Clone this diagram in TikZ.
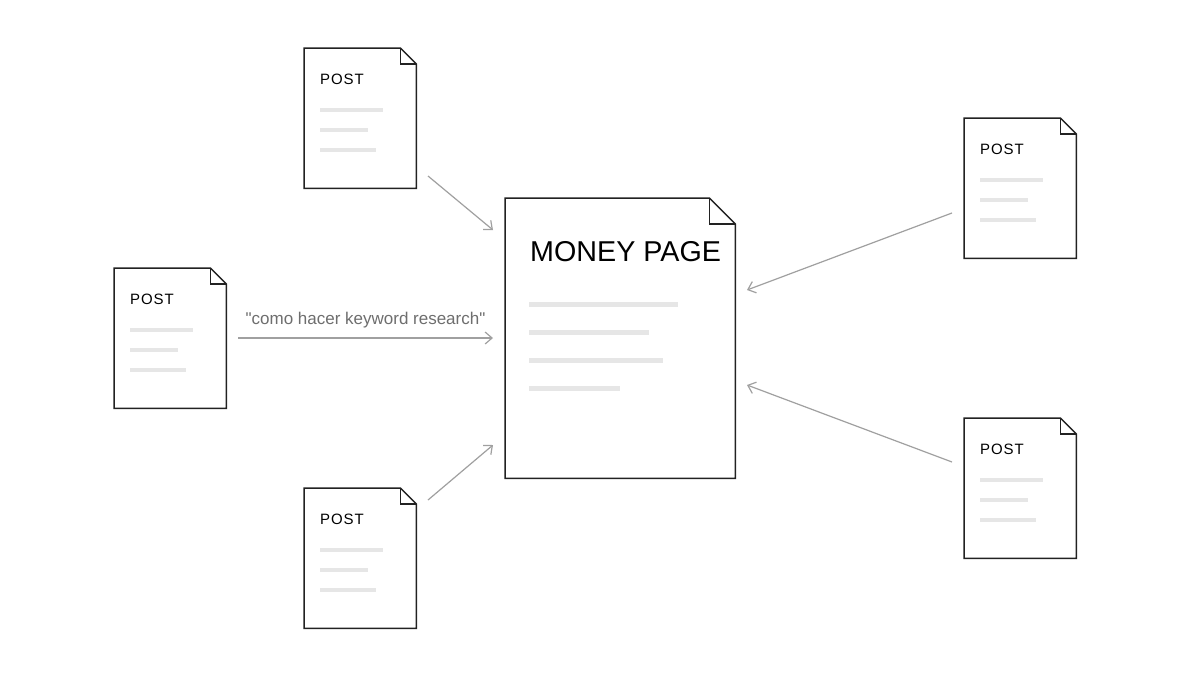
\documentclass[tikz,border=0pt]{standalone}
\usepackage{fontspec}
\setmainfont{Liberation Sans}[Ligatures=TeXOff]
\newfontfamily\postfont[LetterSpace=6]{Liberation Sans}
\usetikzlibrary{arrows.meta}

\definecolor{docedge}{HTML}{222222}
\definecolor{textline}{HTML}{E6E6E6}
\definecolor{linkgray}{HTML}{A0A0A0}
\definecolor{labelgray}{HTML}{6E6E6E}

\tikzset{
	docbox/.style={inner sep=0pt, anchor=north west},
	docedge/.style={draw=docedge, line width=1.5pt, line join=miter},
	textbar/.style={draw=textline, line width=4pt},
	link/.style={draw=linkgray, line width=1.2pt, -{Straight Barb[length=7pt,width=12pt,line width=1.2pt]}},
	posttitle/.style={anchor=base west, inner sep=0pt, font=\postfont\fontsize{15}{18}\selectfont, text=black},
}

% page outline with folded corner: name, fold
\newcommand{\docoutline}[2]{
	\draw[docedge] (#1.north west) -- ([xshift=-#2pt]#1.north east) -- ([yshift=-#2pt]#1.north east) -- (#1.south east) -- (#1.south west) -- cycle;
	\draw[docedge] ([xshift=-#2pt]#1.north east) |- ([yshift=-#2pt]#1.north east);
}

\begin{document}
\begin{tikzpicture}[x=1pt,y=-1pt]
	\useasboundingbox[fill=white] (0,0) rectangle (1200,675);

	% money page
	\node[docbox, minimum width=230pt, minimum height=280pt] (money) at (505,198) {};
	\docoutline{money}{26}
	\node[anchor=base west, inner sep=0pt, font=\fontsize{28.7}{34}\selectfont] (moneytitle) at ([xshift=25pt,yshift=-63pt]money.north west) {MONEY PAGE};
	\foreach \dy/\len in {106/149, 134/120, 162/134, 190/91}{
		\draw[line width=5pt, draw=textline] ([xshift=24pt,yshift=-\dy pt]money.north west) -- ++(\len,0);
	}

	% posts
	\foreach \name/\x/\y in {ptop/304/48, pleft/114/268, pbottom/304/488, pright/964/118, plow/964/418}{
		\node[docbox, minimum width=112pt, minimum height=140pt] (\name) at (\x,\y) {};
		\docoutline{\name}{16}
		\node[posttitle] (\name-title) at ([xshift=16pt,yshift=-36pt]\name.north west) {POST};
		\foreach \dy/\len in {62/63, 82/48, 102/56}{
			\draw[textbar] ([xshift=16pt,yshift=-\dy pt]\name.north west) -- ++(\len,0);
		}
	}

	% link ends
	\coordinate (ptop-out) at (428,176);
	\coordinate (money-in1) at (493,230);
	\coordinate (pleft-out) at (238,338);
	\coordinate (money-in2) at (493,338);
	\coordinate (pbottom-out) at (428,500);
	\coordinate (money-in3) at (493,445);
	\coordinate (pright-out) at (952,213);
	\coordinate (money-in4) at (747,290);
	\coordinate (plow-out) at (952,462);
	\coordinate (money-in5) at (747,385);

	\draw[link] (ptop-out) -- (money-in1);
	\draw[link] (pleft-out) -- node[above=6pt, text=labelgray, font=\fontsize{17}{20}\selectfont] (anchor-text) {"como hacer keyword research"} (money-in2);
	\draw[link] (pbottom-out) -- (money-in3);
	\draw[link] (pright-out) -- (money-in4);
	\draw[link] (plow-out) -- (money-in5);
\end{tikzpicture}
\end{document}
